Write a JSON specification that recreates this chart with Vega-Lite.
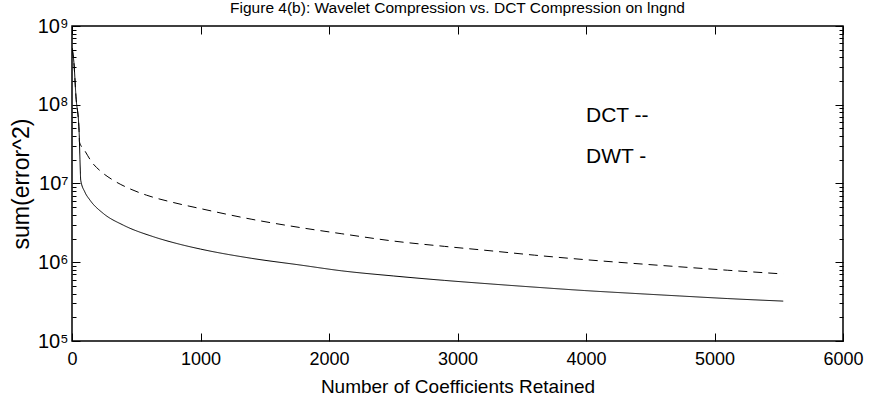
{
  "$schema": "https://vega.github.io/schema/vega-lite/v6.json",
  "width": 771,
  "height": 315,
  "autosize": {"type": "none"},
  "padding": {"left": 72, "top": 26, "right": 26, "bottom": 63},
  "background": "white",
  "title": {
    "text": "Figure 4(b): Wavelet Compression vs. DCT Compression on lngnd",
    "font": "Liberation Sans",
    "fontSize": 15.5,
    "fontWeight": "normal",
    "color": "black",
    "anchor": "middle",
    "baseline": "alphabetic",
    "offset": -12
  },
  "config": {
    "view": {"stroke": "black", "strokeWidth": 1.5},
    "axis": {
      "labelFont": "Liberation Sans",
      "titleFont": "Liberation Sans",
      "labelColor": "black",
      "titleColor": "black",
      "tickColor": "black",
      "tickWidth": 1,
      "domain": false,
      "grid": false,
      "zindex": 1,
      "titleFontWeight": "normal",
      "minExtent": 0
    }
  },
  "datasets": {
    "curves": [
      {"n": 1, "err": 520000000, "method": "DCT"},
      {"n": 15, "err": 340000000, "method": "DCT"},
      {"n": 31, "err": 126000000, "method": "DCT"},
      {"n": 55, "err": 47000000, "method": "DCT"},
      {"n": 58, "err": 33700000, "method": "DCT"},
      {"n": 100, "err": 26000000, "method": "DCT"},
      {"n": 153, "err": 18800000, "method": "DCT"},
      {"n": 230, "err": 14000000, "method": "DCT"},
      {"n": 321, "err": 11000000, "method": "DCT"},
      {"n": 450, "err": 8570000, "method": "DCT"},
      {"n": 581, "err": 7100000, "method": "DCT"},
      {"n": 788, "err": 5740000, "method": "DCT"},
      {"n": 1000, "err": 4800000, "method": "DCT"},
      {"n": 1400, "err": 3510000, "method": "DCT"},
      {"n": 1774, "err": 2760000, "method": "DCT"},
      {"n": 2100, "err": 2300000, "method": "DCT"},
      {"n": 2500, "err": 1860000, "method": "DCT"},
      {"n": 2900, "err": 1590000, "method": "DCT"},
      {"n": 3253, "err": 1400000, "method": "DCT"},
      {"n": 3600, "err": 1230000, "method": "DCT"},
      {"n": 3990, "err": 1080000, "method": "DCT"},
      {"n": 4350, "err": 972000, "method": "DCT"},
      {"n": 4731, "err": 875000, "method": "DCT"},
      {"n": 5100, "err": 792000, "method": "DCT"},
      {"n": 5535, "err": 710000, "method": "DCT"},
      {"n": 1, "err": 520000000, "method": "DWT"},
      {"n": 15, "err": 340000000, "method": "DWT"},
      {"n": 31, "err": 126000000, "method": "DWT"},
      {"n": 55, "err": 47000000, "method": "DWT"},
      {"n": 62, "err": 20000000, "method": "DWT"},
      {"n": 68, "err": 11000000, "method": "DWT"},
      {"n": 100, "err": 7800000, "method": "DWT"},
      {"n": 140, "err": 6150000, "method": "DWT"},
      {"n": 244, "err": 4160000, "method": "DWT"},
      {"n": 399, "err": 2960000, "method": "DWT"},
      {"n": 633, "err": 2110000, "method": "DWT"},
      {"n": 840, "err": 1690000, "method": "DWT"},
      {"n": 1000, "err": 1470000, "method": "DWT"},
      {"n": 1400, "err": 1120000, "method": "DWT"},
      {"n": 1774, "err": 923000, "method": "DWT"},
      {"n": 2100, "err": 778000, "method": "DWT"},
      {"n": 2500, "err": 670000, "method": "DWT"},
      {"n": 2900, "err": 588000, "method": "DWT"},
      {"n": 3253, "err": 531000, "method": "DWT"},
      {"n": 3600, "err": 483000, "method": "DWT"},
      {"n": 3990, "err": 437000, "method": "DWT"},
      {"n": 4350, "err": 404000, "method": "DWT"},
      {"n": 4731, "err": 373000, "method": "DWT"},
      {"n": 5100, "err": 346000, "method": "DWT"},
      {"n": 5535, "err": 321000, "method": "DWT"}
    ],
    "notes": [
      {"n": 4000, "err": 72000000, "label": "DCT --"},
      {"n": 4000, "err": 22000000, "label": "DWT -"}
    ]
  },
  "layer": [
    {
      "data": {"name": "curves"},
      "mark": {"type": "line", "color": "black", "strokeWidth": 1, "clip": true, "interpolate": "monotone"},
      "encoding": {
        "x": {
          "field": "n", "type": "quantitative",
          "scale": {"domain": [0, 6000], "nice": false, "zero": false},
          "axis": {
            "orient": "bottom",
            "title": "Number of Coefficients Retained",
            "values": [0, 1000, 2000, 3000, 4000, 5000, 6000],
            "format": "d",
            "offset": -8,
            "tickSize": 8,
            "labelPadding": 9,
            "labelFontSize": 18,
            "titleFontSize": 19,
            "titlePadding": 9,
            "labelFlush": false
          }
        },
        "y": {
          "field": "err", "type": "quantitative",
          "scale": {"type": "log", "domain": [100000, 1000000000], "nice": false},
          "axis": {
            "orient": "left",
            "title": "sum(error^2)",
            "values": [100000, 1000000, 10000000, 100000000, 1000000000],
            "labelExpr": "'10' + ['⁵','⁶','⁷','⁸','⁹'][indexof([100000,1000000,10000000,100000000,1000000000], datum.value)]",
            "offset": -8,
            "tickSize": 8,
            "labelPadding": 4,
            "labelFontSize": 20,
            "titleFontSize": 23,
            "titlePadding": 4,
            "labelFlush": false
          }
        },
        "strokeDash": {
          "field": "method", "type": "nominal",
          "scale": {"domain": ["DCT", "DWT"], "range": [[9, 6], [1, 0]]},
          "legend": null
        }
      }
    },
    {
      "data": {"name": "notes"},
      "mark": {"type": "text", "align": "left", "baseline": "middle", "fontSize": 21, "font": "Liberation Sans", "color": "black"},
      "encoding": {
        "x": {
          "field": "n", "type": "quantitative",
          "scale": {"domain": [0, 6000], "nice": false, "zero": false},
          "axis": {"orient": "top", "title": null, "labels": false, "values": [0, 1000, 2000, 3000, 4000, 5000, 6000], "offset": -8, "tickSize": 8}
        },
        "y": {
          "field": "err", "type": "quantitative",
          "scale": {"type": "log", "domain": [100000, 1000000000], "nice": false},
          "axis": {"orient": "right", "title": null, "labels": false, "values": [100000, 1000000, 10000000, 100000000, 1000000000], "offset": -8, "tickSize": 8}
        },
        "text": {"field": "label", "type": "nominal"}
      }
    },
    {
      "data": {"name": "curves"},
      "mark": {"type": "line", "strokeOpacity": 0, "clip": true},
      "encoding": {
        "x": {"field": "n", "type": "quantitative", "scale": {"domain": [0, 6000], "nice": false, "zero": false}, "axis": null},
        "y": {
          "field": "err", "type": "quantitative",
          "scale": {"type": "log", "domain": [100000, 1000000000], "nice": false},
          "axis": {
            "orient": "left", "title": null, "labels": false, "offset": -4, "tickSize": 4,
            "values": [200000, 300000, 400000, 500000, 600000, 700000, 800000, 900000,
                       2000000, 3000000, 4000000, 5000000, 6000000, 7000000, 8000000, 9000000,
                       20000000, 30000000, 40000000, 50000000, 60000000, 70000000, 80000000, 90000000,
                       200000000, 300000000, 400000000, 500000000, 600000000, 700000000, 800000000, 900000000]
          }
        },
        "detail": {"field": "method", "type": "nominal"}
      }
    },
    {
      "data": {"name": "curves"},
      "mark": {"type": "line", "strokeOpacity": 0, "clip": true},
      "encoding": {
        "x": {"field": "n", "type": "quantitative", "scale": {"domain": [0, 6000], "nice": false, "zero": false}, "axis": null},
        "y": {
          "field": "err", "type": "quantitative",
          "scale": {"type": "log", "domain": [100000, 1000000000], "nice": false},
          "axis": {
            "orient": "right", "title": null, "labels": false, "offset": -4, "tickSize": 4,
            "values": [200000, 300000, 400000, 500000, 600000, 700000, 800000, 900000,
                       2000000, 3000000, 4000000, 5000000, 6000000, 7000000, 8000000, 9000000,
                       20000000, 30000000, 40000000, 50000000, 60000000, 70000000, 80000000, 90000000,
                       200000000, 300000000, 400000000, 500000000, 600000000, 700000000, 800000000, 900000000]
          }
        },
        "detail": {"field": "method", "type": "nominal"}
      }
    }
  ],
  "resolve": {"axis": {"x": "independent", "y": "independent"}}
}
